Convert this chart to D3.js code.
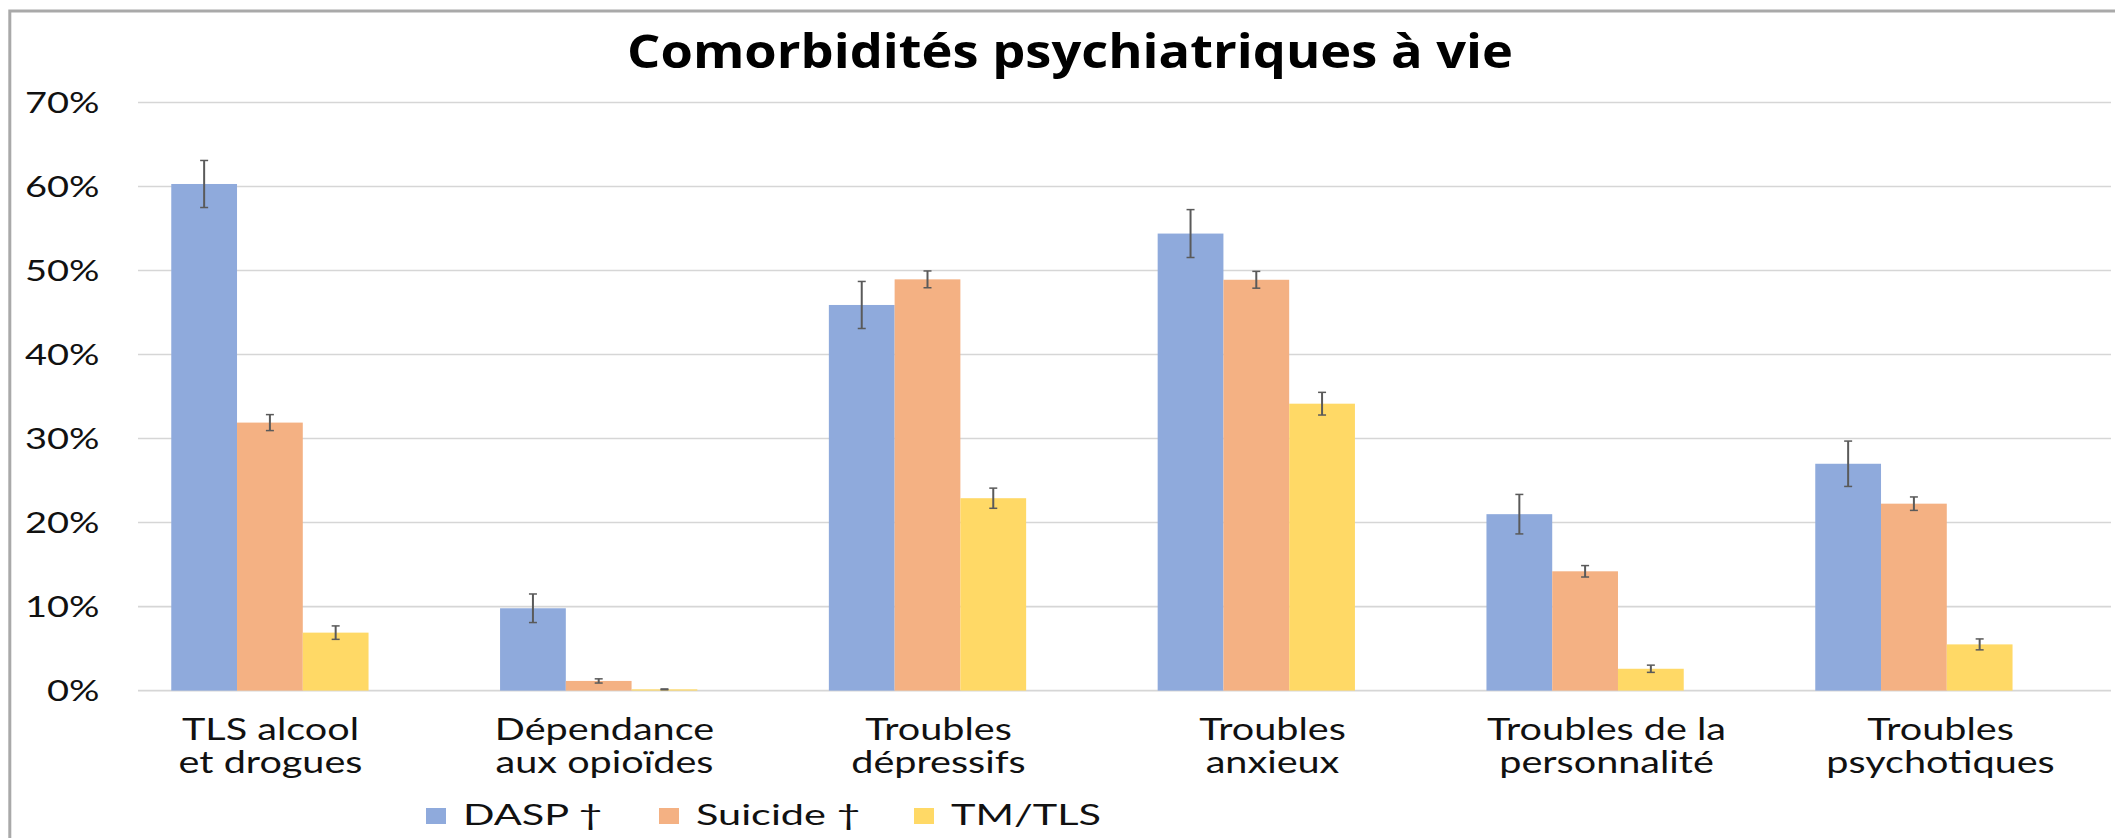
<!DOCTYPE html>
<html>
<head>
<meta charset="utf-8">
<script src="https://cdn.jsdelivr.net/npm/d3@7"></script>
<style>
    body { margin: 0; background: #fff; }
    svg { display: block; }
</style>
</head>
<body>
<svg id="chart" width="2115" height="838"></svg>
<script>
// categories, two lines each as in the original labels
const categories = [
    ["TLS alcool", "et drogues"],
    ["Dépendance", "aux opioïdes"],
    ["Troubles", "dépressifs"],
    ["Troubles", "anxieux"],
    ["Troubles de la", "personnalité"],
    ["Troubles", "psychotiques"]
];
const seriesNames = ["DASP †", "Suicide †", "TM/TLS"];

// values in %
const daspValues    = [60.3, 9.8, 45.9, 54.4, 21.0, 27.0];
const daspErrors    = [2.8, 1.7, 2.8, 2.85, 2.35, 2.7];
const suicideValues = [31.9, 1.15, 48.95, 48.9, 14.2, 22.25];
const suicideErrors = [0.95, 0.25, 1.0, 1.0, 0.68, 0.8];
const tmtlsValues   = [6.9, 0.15, 22.9, 34.15, 2.6, 5.5];
const tmtlsErrors   = [0.8, 0.05, 1.2, 1.35, 0.43, 0.65];

const yTicks = [0, 10, 20, 30, 40, 50, 60, 70];

const colors = ["#8faadc", "#f4b183", "#ffd966"];
const stretch = 1.32;   // the original picture is wider than tall

const svg = d3.select("#chart");

const seriesValues = [daspValues, suicideValues, tmtlsValues];
const seriesErrors = [daspErrors, suicideErrors, tmtlsErrors];

const y = d3.scaleLinear().domain([0, 70]).range([690.6, 102.5]);

const x = d3.scaleBand()
    .domain(d3.range(categories.length))
    .range([105.5, 2078.3])
    .padding(0);

const xSub = d3.scaleBand()
    .domain(d3.range(seriesNames.length))
    .range([x.bandwidth() * 0.2, x.bandwidth() * 0.8]);

// labels sit a bit off the bar groups in the original
const xLabel = d3.scaleBand()
    .domain(d3.range(categories.length))
    .range([103.5, 2107.5]);

svg.append("rect")
    .attr("width", 2115).attr("height", 838)
    .attr("fill", "#fff");

// frame
svg.append("path")
    .attr("d", "M9.8,838 V11 H2115")
    .attr("fill", "none")
    .attr("stroke", "#a9a9a9")
    .attr("stroke-width", 3);

// gridlines
svg.append("g")
    .selectAll("line")
    .data(yTicks)
    .enter().append("line")
    .attr("x1", 138).attr("x2", 2111)
    .attr("y1", d => y(d)).attr("y2", d => y(d))
    .attr("stroke", "#d6d6d6")
    .attr("stroke-width", 1.6);

// y labels
svg.append("g")
    .selectAll("text")
    .data(yTicks)
    .enter().append("text")
    .attr("transform", d => `translate(99.5,${y(d) + 10}) scale(${stretch},1)`)
    .attr("text-anchor", "end")
    .style("font-family", "Lato")
    .style("font-size", "28.8px")
    .style("fill", "#111")
    .text(d => d + "%");

// bars
const groups = svg.append("g")
    .selectAll("g")
    .data(categories)
    .enter().append("g")
    .attr("transform", (d, i) => `translate(${x(i)},0)`);

groups.selectAll("rect")
    .data((d, i) => seriesValues.map((vals, s) => ({ s: s, v: vals[i], e: seriesErrors[s][i] })))
    .enter().append("rect")
    .attr("x", d => xSub(d.s))
    .attr("width", xSub.bandwidth())
    .attr("y", d => y(d.v))
    .attr("height", d => y(0) - y(d.v))
    .style("fill", d => colors[d.s]);

// error bars
const err = groups.selectAll("g.err")
    .data((d, i) => seriesValues.map((vals, s) => ({ s: s, v: vals[i], e: seriesErrors[s][i] })))
    .enter().append("g")
    .attr("class", "err")
    .attr("transform", d => `translate(${xSub(d.s) + xSub.bandwidth() / 2},0)`)
    .style("stroke", "#5a5a5a");

err.append("line")
    .attr("y1", d => y(d.v + d.e)).attr("y2", d => y(d.v - d.e))
    .attr("stroke-width", 2);
err.append("line")
    .attr("x1", -4).attr("x2", 4)
    .attr("y1", d => y(d.v + d.e)).attr("y2", d => y(d.v + d.e))
    .attr("stroke-width", 1.5);
err.append("line")
    .attr("x1", -4).attr("x2", 4)
    .attr("y1", d => y(d.v - d.e)).attr("y2", d => y(d.v - d.e))
    .attr("stroke-width", 1.5);

// category labels
const labels = svg.append("g")
    .selectAll("g")
    .data(categories)
    .enter().append("g");

labels.selectAll("text")
    .data((d, i) => d.map((line, k) => ({ line: line, k: k, i: i })))
    .enter().append("text")
    .attr("transform", d => `translate(${xLabel(d.i) + xLabel.bandwidth() / 2},${740 + d.k * 33}) scale(${stretch},1)`)
    .attr("text-anchor", "middle")
    .style("font-family", "Lato")
    .style("font-size", "30px")
    .style("fill", "#111")
    .text(d => d.line);

// title
const title = svg.append("text")
    .attr("text-anchor", "middle")
    .style("font-family", "'Open Sans'")
    .style("font-weight", "bold")
    .style("font-size", "47px")
    .style("fill", "#000")
    .text("Comorbidités psychiatriques à vie");
const titleScale = 886 / title.node().getComputedTextLength();
title.attr("transform", `translate(1070,68) scale(${titleScale},1)`);

// legend
const legendX = [426, 659, 914];
const legend = svg.append("g")
    .selectAll("g")
    .data(seriesNames)
    .enter().append("g")
    .attr("transform", (d, i) => `translate(${legendX[i]},808)`);

legend.append("rect")
    .attr("width", 20).attr("height", 16)
    .style("fill", (d, i) => colors[i]);

legend.append("text")
    .attr("transform", `translate(37,17) scale(1.48,1)`)
    .style("font-family", "Lato")
    .style("font-size", "28px")
    .style("fill", "#111")
    .text(d => d);
</script>
</body>
</html>
